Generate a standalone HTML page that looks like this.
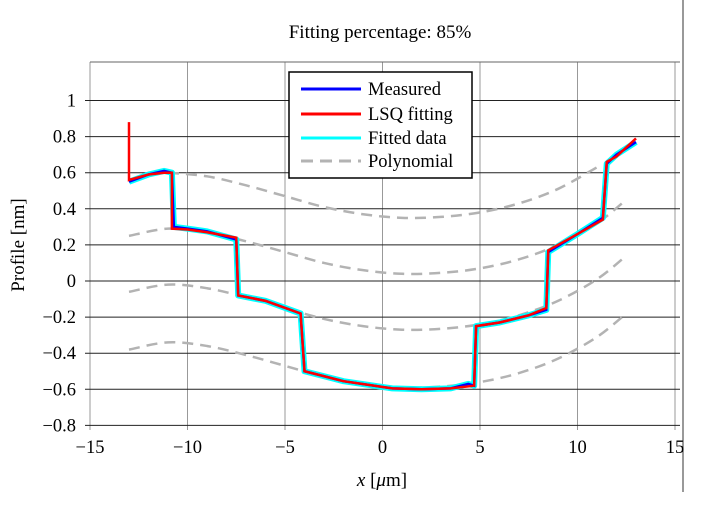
<!DOCTYPE html>
<html><head><meta charset="utf-8"><style>
body{margin:0;background:#fff}
text{font-family:"Liberation Serif",serif}
</style></head><body>
<svg id="c" width="716" height="506" xmlns="http://www.w3.org/2000/svg">
<line x1="683" y1="0" x2="683" y2="492" stroke="#333" stroke-width="1"/>
<text x="380" y="38" font-size="19" text-anchor="middle">Fitting percentage: 85%</text>
<text x="0" y="0" font-size="19" text-anchor="middle" transform="translate(24,245) rotate(-90)">Profile [nm]</text>
<text x="382" y="486" font-size="19" text-anchor="middle"><tspan font-style="italic">x</tspan> [<tspan font-style="italic">μ</tspan>m]</text>
<g id="grid"></g><g id="series"></g>
<g>
<rect x="289" y="72" width="183" height="106" fill="#fff" stroke="#000" stroke-width="1.5"/>
<line x1="301" y1="89" x2="361" y2="89" stroke="#0000ff" stroke-width="3"/>
<text x="368" y="95" font-size="18.5">Measured</text>
<line x1="301" y1="114" x2="361" y2="114" stroke="#ff0000" stroke-width="3"/>
<text x="368" y="120" font-size="18.5">LSQ fitting</text>
<line x1="301" y1="138" x2="361" y2="138" stroke="#00ffff" stroke-width="3"/>
<text x="368" y="144" font-size="18.5">Fitted data</text>
<line x1="301" y1="161" x2="361" y2="161" stroke="#b3b3b3" stroke-width="3" stroke-dasharray="12,7"/>
<text x="368" y="167" font-size="18.5">Polynomial</text>
</g>
</svg>
<script>
const xTicks=[-15,-10,-5,0,5,10,15];
const yTicks=[-0.8,-0.6,-0.4,-0.2,0,0.2,0.4,0.6,0.8,1];
const yTickLabels=["−0.8","−0.6","−0.4","−0.2","0","0.2","0.4","0.6","0.8","1"];
const xTickLabels=["−15","−10","−5","0","5","10","15"];
const polyX=[-13,-11,-9,-7,-5,-3,-1,1,3,5,7,9,11,12.5];
const polyBase=[0.25,0.29,0.27,0.22,0.16,0.10,0.06,0.04,0.045,0.07,0.12,0.20,0.32,0.45];
const polyOffsets=[0.31,0,-0.31,-0.63];
const fitX=[-13,-13,-12,-11.2,-10.8,-10.8,-10,-9,-7.5,-7.4,-6,-4.2,-4,-2,0.5,2,3.5,4.7,4.8,6,7.5,8.4,8.5,10,11.3,11.5,12,13];
const fitY=[0.88,0.56,0.59,0.60,0.60,0.29,0.285,0.27,0.24,-0.08,-0.11,-0.18,-0.5,-0.555,-0.595,-0.6,-0.595,-0.58,-0.25,-0.23,-0.19,-0.15,0.17,0.26,0.34,0.66,0.69,0.79];
const measX=[-13,-12,-11.2,-10.8,-10.7,-10,-9,-7.5,-7.4,-6,-4.2,-4,-2,0.5,2,3.5,4.4,4.7,4.8,6,7.5,8.4,8.5,10,11.3,11.5,12,13];
const measY=[0.55,0.59,0.61,0.60,0.30,0.29,0.275,0.23,-0.08,-0.11,-0.18,-0.5,-0.555,-0.595,-0.6,-0.595,-0.57,-0.58,-0.25,-0.23,-0.19,-0.16,0.16,0.26,0.35,0.65,0.70,0.77];
const X=v=>382.5+v*19.5, Y=v=>281-v*180.5;
const NS="http://www.w3.org/2000/svg";
const grid=document.getElementById('grid'),ser=document.getElementById('series');
function el(t,a,p){const e=document.createElementNS(NS,t);for(const k in a)e.setAttribute(k,a[k]);p.appendChild(e);return e;}
function smooth(P){let d='M'+P[0][0]+','+P[0][1];for(let i=0;i<P.length-1;i++){const p0=P[Math.max(i-1,0)],p1=P[i],p2=P[i+1],p3=P[Math.min(i+2,P.length-1)];d+=' C'+(p1[0]+(p2[0]-p0[0])/6)+','+(p1[1]+(p2[1]-p0[1])/6)+' '+(p2[0]-(p3[0]-p1[0])/6)+','+(p2[1]-(p3[1]-p1[1])/6)+' '+p2[0]+','+p2[1];}return d;}
const L=90,R=680,T=62,B=425;
xTicks.forEach((v,i)=>{
 const g=el('line',{x1:X(v),x2:X(v),y1:T,y2:B+5,stroke:'#999','stroke-width':1},grid);
 
 
 const t=el('text',{x:X(v),y:453,'font-size':18.5,'text-anchor':'middle'},grid);t.textContent=xTickLabels[i];
 
 
});
yTicks.forEach((v,i)=>{
 const g=el('line',{x1:L-5,x2:R,y1:Y(v),y2:Y(v),stroke:'#222','stroke-width':1},grid);
 
 
 const t=el('text',{x:76,y:Y(v)+6,'font-size':18.5,'text-anchor':'end'},grid);t.textContent=yTickLabels[i];
 
 
});
const topBorder=el('line',{x1:L,x2:R,y1:T,y2:T,stroke:'#666','stroke-width':1},grid);


polyOffsets.forEach((o,k)=>{
 let pts=[];
 polyX.forEach((x,i)=>{ if(k===0&&(x<-11||x>11.5))return; pts.push([X(x),Y(polyBase[i]+o)]); });
 const p=el('path',{d:smooth(pts),fill:'none',stroke:'#b3b3b3','stroke-width':2.5,'stroke-dasharray':'11,7'},ser);
 
 
});
const pm=measX.map((x,i)=>X(x)+','+Y(measY[i])).join(' ');
const cy=el('polyline',{points:pm,fill:'none',stroke:'#00ffff','stroke-width':6,'stroke-linejoin':'round'},ser);


const bl=el('polyline',{points:pm,fill:'none',stroke:'#0000ff','stroke-width':2.5},ser);


const rd=el('polyline',{points:fitX.map((x,i)=>X(x)+','+Y(fitY[i])).join(' '),fill:'none',stroke:'#ff0000','stroke-width':2.5},ser);


</script>
</body></html>
